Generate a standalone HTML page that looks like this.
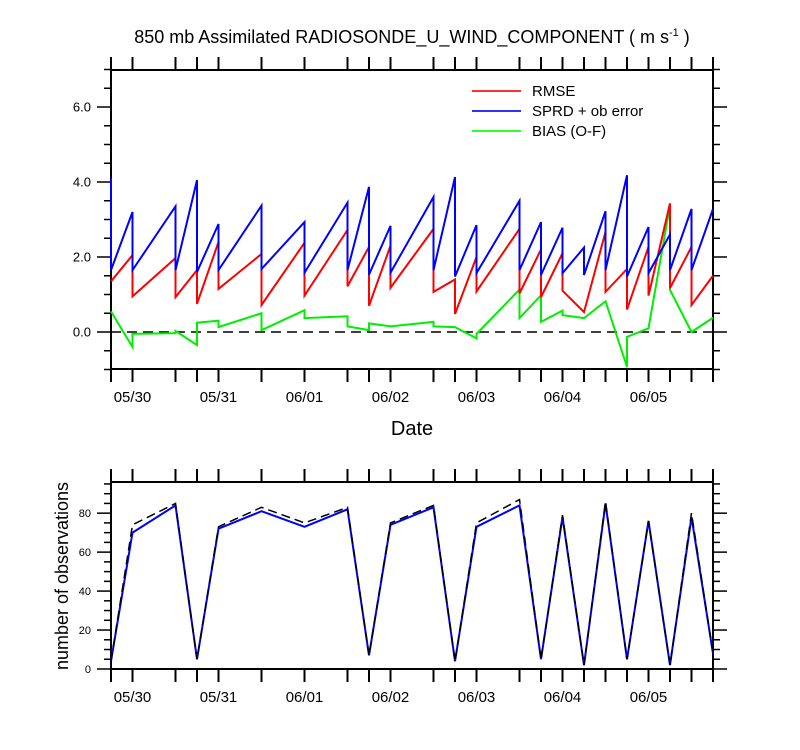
<!DOCTYPE html>
<html><head><meta charset="utf-8">
<style>
body{margin:0;background:#fff;}
svg{display:block;font-family:"Liberation Sans",sans-serif;}
</style></head>
<body>
<svg id="chart" width="800" height="750" viewBox="0 0 800 750">
<text x="412" y="43" text-anchor="middle" font-size="18">850 mb Assimilated RADIOSONDE_U_WIND_COMPONENT ( m s<tspan dy="-7" font-size="11">-1</tspan><tspan dy="7"> )</tspan></text>
<text x="412" y="435" text-anchor="middle" font-size="20">Date</text>
<text transform="translate(68,576) rotate(-90)" text-anchor="middle" font-size="18">number of observations</text>
<g>
<line x1="472" y1="91" x2="521" y2="91" stroke="#ff3030" stroke-width="2"/>
<text x="532" y="96" font-size="15">RMSE</text>
<line x1="472" y1="111" x2="521" y2="111" stroke="#3030ff" stroke-width="2"/>
<text x="532" y="116" font-size="15">SPRD + ob error</text>
<line x1="472" y1="131" x2="521" y2="131" stroke="#30ff30" stroke-width="2"/>
<text x="532" y="136" font-size="15">BIAS (O-F)</text>
</g>
<g id="g-top"></g>
<g id="g-bot"></g>
</svg>
<script>
// time in days from 05/30 00Z
const times = [-0.25,0,0.5,0.75,1,1.5,2,2.5,2.75,3,3.5,3.75,4,4.5,4.75,5,5.25,5.5,5.75,6,6.25,6.5,6.75];
const dateLabels = ["05/30","05/31","06/01","06/02","06/03","06/04","06/05"];
const dateTicks = [0,1,2,3,4,5,6];
const topYTicks = [0,2,4,6];
const topYLabels = ["0.0","2.0","4.0","6.0"];
const botYTicks = [0,20,40,60,80];
const botYLabels = ["0","20","40","60","80"];
const sprdIn  = [4.1,3.2,3.35,4.05,2.88,3.37,2.93,3.45,3.87,2.83,3.6,4.13,2.85,3.5,2.93,2.78,2.25,3.22,4.18,2.8,2.6,3.28,3.28];
const sprdOut = [1.65,1.65,1.65,1.6,1.65,1.68,1.58,1.65,1.53,1.58,1.65,1.48,1.57,1.65,1.52,1.57,1.52,1.65,1.48,1.57,1.65,1.65,3.28];
const rmseIn  = [1.35,2.05,1.97,1.65,2.4,2.08,2.38,2.72,2.27,2.3,2.75,1.4,2.0,2.75,2.2,2.1,0.53,2.67,1.68,2.27,3.43,2.27,1.5];
const rmseOut = [1.35,0.95,0.93,0.75,1.15,0.72,0.97,1.22,0.7,1.18,1.07,0.48,1.08,1.03,0.93,1.1,0.53,1.07,0.6,0.97,1.17,0.72,1.5];
const biasIn  = [0.55,-0.4,-0.03,-0.35,0.3,0.5,0.58,0.42,0.05,0.15,0.27,0.13,-0.17,1.13,0.98,0.57,0.37,0.82,-0.93,0.1,3.38,0,0.38];
const biasOut = [0.55,-0.05,0.03,0.25,0.13,0.05,0.37,0.15,0.23,0.15,0.15,0.13,-0.05,0.37,0.27,0.45,0.37,0.82,-0.13,0.1,1.12,0,0.38];
const obsTotal = [4,74,85,5,73,83,75,83,7,75,84,4,75,87,5,79,2,86,5,76,2,80,8];
const obsUsed  = [4,70,84,5,72,81,73,82,7,74,83,4,73,84,5,78,2,85,5,76,2,78,8];

const NS="http://www.w3.org/2000/svg";
const X0=111,X1=713,T0=-0.25,T1=6.75;
const xs=t=>X0+(t-T0)/(T1-T0)*(X1-X0);
const topY=v=>332-(v-0)*37.5;
const TY0=70,TY1=369;
const BY0=482,BY1=669;
const botY=v=>669-v*(669-482)/96;
function el(tag,attrs,parent){const e=document.createElementNS(NS,tag);for(const k in attrs)e.setAttribute(k,attrs[k]);parent.appendChild(e);return e;}
function frame(g,y0,y1,yScale,ticks,labels,minorStep,vmin,vmax,fs,nameP){
  const r=el('rect',{x:X0,y:y0,width:X1-X0,height:y1-y0,fill:'none',stroke:'#000','stroke-width':2},g);
  
  
  times.forEach(t=>{
    const x=xs(t);
    const a=el('line',{x1:x,y1:y0,x2:x,y2:y0-13,stroke:'#000','stroke-width':2},g);
    
    
    const b=el('line',{x1:x,y1:y1,x2:x,y2:y1+13,stroke:'#000','stroke-width':2},g);
    
    
  });
  dateTicks.forEach((t,i)=>{
    const tx=el('text',{x:xs(t),y:y1+33,'text-anchor':'middle','font-size':15},g);
    tx.textContent=dateLabels[i];
    
    
  });
  for(let v=vmin;v<=vmax+1e-9;v+=minorStep){
    const y=yScale(v);
    const isMaj=ticks.some(m=>Math.abs(m-v)<1e-6);
    const L=isMaj?14:7;
    const a=el('line',{x1:X0,y1:y,x2:X0-L,y2:y,stroke:'#000','stroke-width':1.5},g);
    
    
    const b=el('line',{x1:X1,y1:y,x2:X1+L,y2:y,stroke:'#000','stroke-width':1.5},g);
    
    
  }
  ticks.forEach((v,i)=>{
    const tx=el('text',{x:X0-20,y:yScale(v)+fs*0.36,'text-anchor':'end','font-size':fs},g);
    tx.textContent=labels[i];
    
    
  });
}
function saw(g,inA,outA,color,name){
  const pts=[];
  times.forEach((t,i)=>{pts.push(xs(t)+','+topY(inA[i]));pts.push(xs(t)+','+topY(outA[i]));});
  const p=el('polyline',{points:pts.join(' '),fill:'none',stroke:color,'stroke-width':2,'stroke-linejoin':'miter'},g);
  
  
}
const gt=document.getElementById('g-top');
frame(gt,TY0,TY1,topY,topYTicks,topYLabels,0.5,-1,7,13,'top');
const z=el('line',{x1:X0,y1:topY(0),x2:X1,y2:topY(0),stroke:'#000','stroke-width':1.5,'stroke-dasharray':'10,6'},gt);


saw(gt,biasIn,biasOut,'#00ee00','bias-line');
saw(gt,rmseIn,rmseOut,'#ff0000','rmse-line');
saw(gt,sprdIn,sprdOut,'#0000ff','sprd-line');

const gb=document.getElementById('g-bot');
frame(gb,BY0,BY1,botY,botYTicks,botYLabels,5,0,95,11,'bottom');
const pu=el('polyline',{points:times.map((t,i)=>xs(t)+','+botY(obsUsed[i])).join(' '),fill:'none',stroke:'#0000ff','stroke-width':2},gb);


const pt=el('polyline',{points:times.map((t,i)=>xs(t)+','+botY(obsTotal[i])).join(' '),fill:'none',stroke:'#000','stroke-width':1.5,'stroke-dasharray':'9,5'},gb);


</script>
</body></html>
